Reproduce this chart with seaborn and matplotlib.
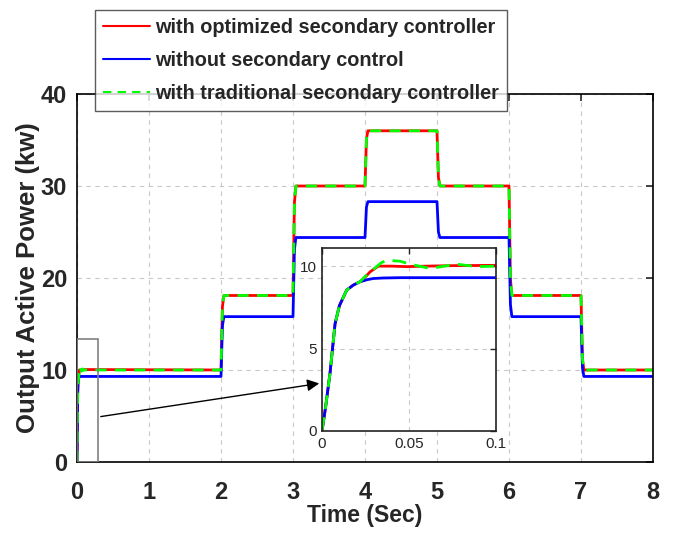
import numpy as np
import pandas as pd
import matplotlib
matplotlib.use("Agg")
import matplotlib.pyplot as plt
import seaborn as sns
from matplotlib.patches import Rectangle
from matplotlib.lines import Line2D

# ---- data ----
switch_times = [2, 3, 4, 5, 6, 7]
t_end = 8
levels_optimized = [10.0, 18.1, 30.0, 36.0, 30.0, 18.1, 10.0]
levels_without = [9.3, 15.8, 24.4, 28.3, 24.4, 15.8, 9.3]
levels_traditional = [10.0, 18.1, 30.0, 36.0, 30.0, 18.1, 10.0]

# start-up transient (inset), seconds / kW
tr_t_common = [0.0, 0.002, 0.0046, 0.0075, 0.010, 0.0142, 0.018, 0.0218]
tr_v_common = [0.0, 1.4, 3.5, 6.5, 7.6, 8.55, 8.85, 9.05]
tr_t_without = [0.026, 0.0295, 0.035, 0.045, 0.06, 0.08, 0.1]
tr_v_without = [9.18, 9.25, 9.28, 9.3, 9.3, 9.3, 9.3]
tr_t_optimized = [0.025, 0.0276, 0.0324, 0.04, 0.0487, 0.06, 0.075, 0.09, 0.1]
tr_v_optimized = [9.35, 9.65, 10.0, 10.0, 9.97, 10.0, 10.03, 10.04, 10.05]
tr_t_traditional = [0.026, 0.03, 0.034, 0.0372, 0.0448, 0.0506, 0.062,
                    0.0774, 0.0889, 0.1]
tr_v_traditional = [9.5, 9.85, 10.2, 10.36, 10.3, 10.12, 9.86, 10.12,
                    9.97, 10.0]

labels = ["with optimized secondary controller",
          "without secondary control",
          "with traditional secondary controller"]


def build_series(tt, tv, levels):
    t = list(tr_t_common) + list(tt)
    v = list(tr_v_common) + list(tv)
    for i, ts in enumerate(switch_times):
        d = levels[i + 1] - levels[i]
        t += [ts, ts + 0.02, ts + 0.04]
        v += [levels[i], levels[i] + 0.85 * d, levels[i + 1]]
    t.append(t_end)
    v.append(levels[-1])
    return t, v


series = {
    labels[0]: build_series(tr_t_optimized, tr_v_optimized, levels_optimized),
    labels[1]: build_series(tr_t_without, tr_v_without, levels_without),
    labels[2]: build_series(tr_t_traditional, tr_v_traditional, levels_traditional),
}
frames = []
for name, (t, v) in series.items():
    frames.append(pd.DataFrame({"t": t, "p": v, "series": name}))
df = pd.concat(frames, ignore_index=True)

colors = {labels[0]: "#ff0000", labels[1]: "#0000ff", labels[2]: "#00ff00"}

sns.set_style("white")
plt.rcParams["font.family"] = ["Liberation Sans", "DejaVu Sans"]

fig = plt.figure(figsize=(6.75, 5.34), dpi=100)
ax = fig.add_axes([77 / 675, 1 - 462 / 534, 576 / 675, 368 / 534])

draw_order = [labels[0], labels[1], labels[2]]
for name in draw_order:
    sub = df[df.series == name]
    ls = "--" if name == labels[2] else "-"
    sns.lineplot(data=sub, x="t", y="p", ax=ax, color=colors[name], lw=2.0,
                 linestyle=ls, estimator=None, sort=False, legend=False)
    if ls == "--":
        ax.lines[-1].set_dashes((4, 3))

ax.set_xlim(0, 8)
ax.set_ylim(0, 40)
ax.set_xticks(range(0, 9))
ax.set_yticks([0, 10, 20, 30, 40])
ax.grid(True, linestyle=(0, (4, 4)), color="#c8c8c8", lw=0.8)
for s in ax.spines.values():
    s.set_color("black")
    s.set_linewidth(1.2)
ax.tick_params(direction="in", length=5, width=1.2, top=True, right=True,
               labelsize=17)
for lab in ax.get_xticklabels() + ax.get_yticklabels():
    lab.set_fontweight("bold")
ax.tick_params(axis="x", pad=14)
ax.tick_params(axis="y", pad=7)
ax.set_xlabel("Time (Sec)", fontsize=16.5, fontweight="bold", labelpad=0)
ax.set_ylabel("Output Active Power (kw)", fontsize=18.5, fontweight="bold",
              labelpad=1)

# zoom rectangle
ax.add_patch(Rectangle((0, 0), 0.29, 13.4, fill=False, ec="#808080", lw=1.2,
                       zorder=5))

# inset
axi = fig.add_axes([322 / 675, 1 - 431 / 534, 174 / 675, 183 / 534])
for name in draw_order:
    sub = df[(df.series == name) & (df.t <= 0.1)]
    ls = "--" if name == labels[2] else "-"
    sns.lineplot(data=sub, x="t", y="p", ax=axi, color=colors[name], lw=2.0,
                 linestyle=ls, estimator=None, sort=False, legend=False)
    if ls == "--":
        axi.lines[-1].set_dashes((5, 3))
axi.set_xlim(0, 0.1)
axi.set_ylim(0, 11.1)
axi.set_xticks([0, 0.05, 0.1])
axi.set_xticklabels(["0", "0.05", "0.1"])
axi.set_yticks([0, 5, 10])
axi.set_xlabel("")
axi.set_ylabel("")
axi.grid(True, linestyle=(0, (4, 4)), color="#c8c8c8", lw=0.8)
axi.tick_params(direction="in", length=4, width=1.0, top=True, right=True,
                labelsize=11, pad=4)
for s in axi.spines.values():
    s.set_color("#222222")
    s.set_linewidth(1.2)

# arrow from rectangle to inset
ax.annotate("", xy=(322, 534 - 383), xycoords="figure pixels",
            xytext=(98, 534 - 417), textcoords="figure pixels",
            arrowprops=dict(arrowstyle="-|>", color="black", lw=1.0,
                            mutation_scale=18), zorder=6)

# legend
hl = [Line2D([], [], color="#ff0000", lw=1.5),
      Line2D([], [], color="#0000ff", lw=1.5),
      Line2D([], [], color="#00ff00", lw=1.5, dashes=(4, 3))]
leg = fig.legend(hl, labels, loc="upper left",
                 bbox_to_anchor=(95 / 675, 1 - 10 / 534),
                 prop=dict(size=14.3, weight="bold"), frameon=True,
                 fancybox=False, handlelength=2.35, handletextpad=0.25,
                 labelspacing=0.7, borderpad=0.42, borderaxespad=0)
leg.get_frame().set_edgecolor("#333333")
leg.get_frame().set_linewidth(1.0)

fig.savefig("out.png", dpi=100)
